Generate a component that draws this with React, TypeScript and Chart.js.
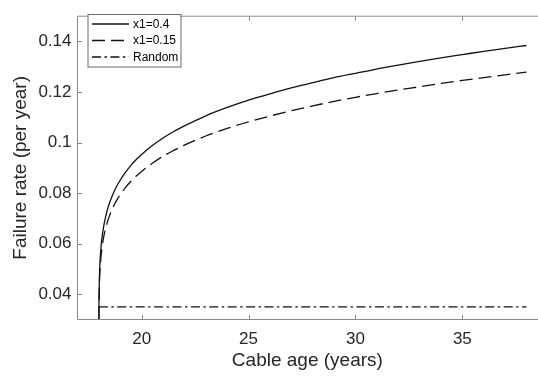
import React, { useEffect, useRef } from "react";
import { Chart, registerables } from "chart.js";

Chart.register(...registerables);

// Cable age (years) at which each failure rate was evaluated
const ageYears = [
  18, 18.002, 18.01, 18.03, 18.05, 18.1, 18.15, 18.2, 18.3, 18.4, 18.5, 18.6, 18.75, 18.9, 19,
  19.25, 19.5, 19.75, 20, 20.5, 21, 21.5, 22, 23, 24, 25, 26, 27, 28, 29, 30, 31, 32, 33, 34, 35,
  36, 37, 38,
];

// Failure rate (per year) for x1 = 0.4
const rateX1High = [
  0.0, 0.0311, 0.0404, 0.0483, 0.0524, 0.0587, 0.0627, 0.0656, 0.0701, 0.0735, 0.0762, 0.0784,
  0.0813, 0.0838, 0.0852, 0.0883, 0.091, 0.0933, 0.0953, 0.0988, 0.1018, 0.1044, 0.1066, 0.1106,
  0.1139, 0.1168, 0.1193, 0.1216, 0.1237, 0.1257, 0.1274, 0.1291, 0.1306, 0.1321, 0.1335, 0.1348,
  0.1361, 0.1373, 0.1384,
];

// Failure rate (per year) for x1 = 0.15
const rateX1Low = [
  0.0, 0.0296, 0.0382, 0.0455, 0.0493, 0.055, 0.0587, 0.0615, 0.0656, 0.0686, 0.0711, 0.0732,
  0.0759, 0.0781, 0.0794, 0.0823, 0.0847, 0.0868, 0.0886, 0.0918, 0.0946, 0.0969, 0.099, 0.1026,
  0.1056, 0.1082, 0.1105, 0.1126, 0.1145, 0.1163, 0.1179, 0.1194, 0.1208, 0.1221, 0.1234, 0.1246,
  0.1257, 0.1268, 0.1279,
];

// Constant random failure rate
const randomAges = [18, 38];
const randomRate = [0.035, 0.035];

const xTicks = [20, 25, 30, 35];
const yTicks = [0.04, 0.06, 0.08, 0.1, 0.12, 0.14];
const yTickLabels = ["0.04", "0.06", "0.08", "0.1", "0.12", "0.14"];

const seriesNames = ["x1=0.4", "x1=0.15", "Random"];

const FONT = "'Liberation Sans', Arial, Helvetica, sans-serif";
const AXIS_COLOR = "#8a8a8a";
const TEXT_COLOR = "#262626";
const LINE_COLOR = "#111111";
const LINE_WIDTH = 1.3;
const DASH_LONG = [13, 6];
const DASH_DOT = [9, 3.5, 2.4, 3.5];
const TICK_LEN = 4.5;

const toPoints = (xs: number[], ys: number[]) => xs.map((x, i) => ({ x, y: ys[i] }));

// Box-style axes: left, bottom and top lines with inward tick marks
const framePlugin = {
  id: "boxFrame",
  afterDraw(chart: any) {
    const { ctx, chartArea: a, scales } = chart;
    ctx.save();
    ctx.strokeStyle = AXIS_COLOR;
    ctx.lineWidth = 1;
    ctx.setLineDash([]);
    ctx.beginPath();
    ctx.moveTo(a.left, a.top);
    ctx.lineTo(a.right + 2, a.top);
    ctx.moveTo(a.left, a.top);
    ctx.lineTo(a.left, a.bottom);
    ctx.lineTo(a.right + 2, a.bottom);
    for (const v of xTicks) {
      const px = Math.round(scales.x.getPixelForValue(v)) + 0.5;
      ctx.moveTo(px, a.bottom);
      ctx.lineTo(px, a.bottom - TICK_LEN);
      ctx.moveTo(px, a.top);
      ctx.lineTo(px, a.top + TICK_LEN);
    }
    for (const v of yTicks) {
      const py = Math.round(scales.y.getPixelForValue(v)) + 0.5;
      ctx.moveTo(a.left, py);
      ctx.lineTo(a.left + TICK_LEN, py);
    }
    ctx.stroke();
    ctx.restore();
  },
};

// Boxed legend in the upper-left corner of the plot
const legendPlugin = {
  id: "boxLegend",
  afterDraw(chart: any) {
    const { ctx } = chart;
    const box = { x: 87.5, y: 14, w: 93, h: 52.5 };
    const rows = [24, 40.5, 57];
    const dashes = [[], DASH_LONG, DASH_DOT];
    ctx.save();
    ctx.fillStyle = "#ffffff";
    ctx.fillRect(box.x, box.y, box.w, box.h);
    ctx.strokeStyle = "#6a6a6a";
    ctx.lineWidth = 1;
    ctx.setLineDash([]);
    ctx.strokeRect(box.x + 0.5, box.y + 0.5, box.w, box.h);
    seriesNames.forEach((name, i) => {
      ctx.strokeStyle = LINE_COLOR;
      ctx.lineWidth = LINE_WIDTH;
      ctx.setLineDash(dashes[i]);
      ctx.beginPath();
      ctx.moveTo(92, rows[i]);
      ctx.lineTo(129, rows[i]);
      ctx.stroke();
      ctx.setLineDash([]);
      ctx.fillStyle = "#000000";
      ctx.font = `12px ${FONT}`;
      ctx.textBaseline = "middle";
      ctx.textAlign = "left";
      ctx.fillText(name, 133, rows[i] + 0.5);
    });
    ctx.restore();
  },
};

export default function App() {
  const canvasRef = useRef<HTMLCanvasElement | null>(null);

  useEffect(() => {
    const canvas = canvasRef.current;
    if (!canvas) return;
    const chart = new Chart(canvas, {
      type: "line",
      data: {
        datasets: [
          {
            label: seriesNames[0],
            data: toPoints(ageYears, rateX1High),
            borderColor: LINE_COLOR,
            borderWidth: LINE_WIDTH,
            pointRadius: 0,
            cubicInterpolationMode: "monotone",
          },
          {
            label: seriesNames[1],
            data: toPoints(ageYears, rateX1Low),
            borderColor: LINE_COLOR,
            borderWidth: LINE_WIDTH,
            borderDash: DASH_LONG,
            pointRadius: 0,
            cubicInterpolationMode: "monotone",
          },
          {
            label: seriesNames[2],
            data: toPoints(randomAges, randomRate),
            borderColor: LINE_COLOR,
            borderWidth: LINE_WIDTH,
            borderDash: DASH_DOT,
            pointRadius: 0,
            tension: 0,
          },
        ],
      },
      options: {
        animation: false,
        responsive: false,
        devicePixelRatio: 1,
        layout: { padding: { left: 0, top: 4.5, right: 0.8, bottom: 0 } },
        plugins: { legend: { display: false }, tooltip: { enabled: false } },
        scales: {
          x: {
            type: "linear",
            min: 17,
            max: 38.5,
            border: { display: false },
            grid: { display: false, drawTicks: false },
            afterBuildTicks: (s: any) => {
              s.ticks = xTicks.map((v) => ({ value: v }));
            },
            afterFit: (s: any) => {
              s.height = 56.5;
            },
            ticks: {
              color: TEXT_COLOR,
              font: { family: FONT, size: 17 },
              padding: 10,
              maxRotation: 0,
              callback: (v: any) => String(v),
            },
            title: {
              display: true,
              text: "Cable age (years)",
              color: TEXT_COLOR,
              font: { family: FONT, size: 19 },
              padding: { top: 0, bottom: 3.6 },
            },
          },
          y: {
            type: "linear",
            min: 0.03,
            max: 0.15,
            border: { display: false },
            grid: { display: false, drawTicks: false },
            afterBuildTicks: (s: any) => {
              s.ticks = yTicks.map((v) => ({ value: v }));
            },
            afterFit: (s: any) => {
              s.width = 77.5;
            },
            ticks: {
              color: TEXT_COLOR,
              font: { family: FONT, size: 17 },
              padding: 6,
              callback: (_v: any, i: number) => yTickLabels[i],
            },
            title: {
              display: true,
              text: "Failure rate (per year)",
              color: TEXT_COLOR,
              font: { family: FONT, size: 19 },
              padding: { top: 9.6, bottom: 0 },
            },
          },
        },
      },
      plugins: [framePlugin, legendPlugin],
    });
    return () => chart.destroy();
  }, []);

  return (
    <div style={{ position: "fixed", left: 0, top: 0, width: 538, height: 376, background: "#fff" }}>
      <canvas ref={canvasRef} width={538} height={376} style={{ width: 538, height: 376, display: "block" }} />
    </div>
  );
}
